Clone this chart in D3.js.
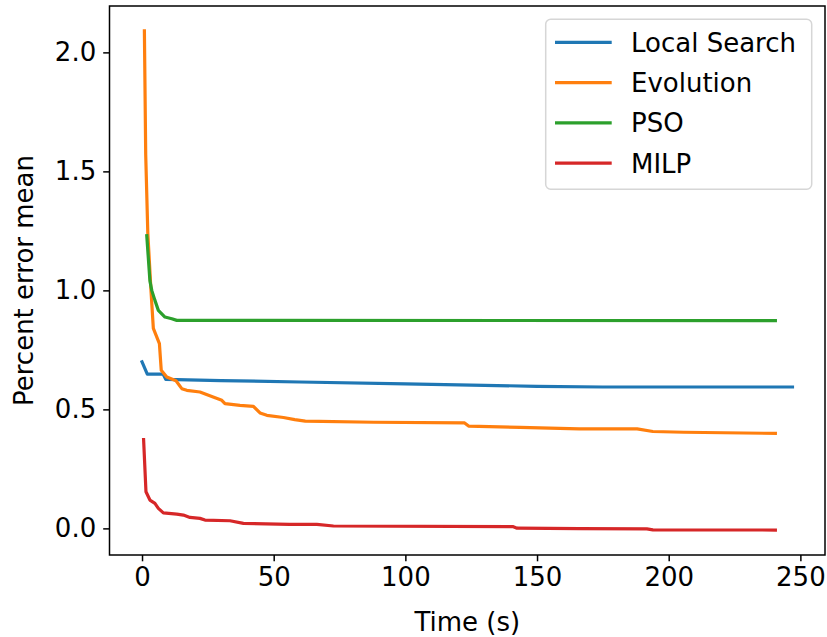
<!DOCTYPE html>
<html><head><meta charset="utf-8">
<script src="https://cdn.jsdelivr.net/npm/d3@7"></script>
<style>body{margin:0;background:#fff}svg{display:block}text{font-family:"DejaVu Sans",sans-serif;fill:#000}</style>
</head><body><svg id="c" width="827" height="637"></svg>
<script>
const seriesNames = ["Local Search", "Evolution", "PSO", "MILP"];
const seriesColors = ["#1f77b4", "#ff7f0e", "#2ca02c", "#d62728"];
const lsTime = [0, 2, 8, 9, 30, 60, 100, 130, 150, 175, 247];
const lsVal  = [0.70, 0.648, 0.648, 0.626, 0.621, 0.615, 0.607, 0.601, 0.597, 0.594, 0.594];
const evTime = [0.9, 1.4, 2.2, 3.4, 4.3, 6.6, 7.3, 9.4, 12.9, 15.1, 17, 22, 27, 30.3, 31.5, 37.2, 42.3, 44.8, 47.4, 53.7, 58, 62, 88, 122.5, 124, 143.6, 166, 188, 194, 205.7, 240.5];
const evVal  = [2.09, 1.57, 1.24, 1.0, 0.84, 0.776, 0.664, 0.636, 0.62, 0.587, 0.58, 0.573, 0.552, 0.538, 0.524, 0.517, 0.513, 0.485, 0.475, 0.466, 0.457, 0.451, 0.446, 0.443, 0.43, 0.424, 0.418, 0.418, 0.407, 0.404, 0.399];
const psoTime = [1.8, 3.0, 3.7, 4.9, 6.2, 8.7, 11.3, 13.2, 240.5];
const psoVal  = [1.23, 1.04, 1.0, 0.958, 0.916, 0.888, 0.881, 0.874, 0.873];
const milpTime = [0.6, 1.5, 3, 4.9, 6.2, 8.1, 13.2, 15.7, 18.2, 22, 23.9, 33.4, 38.5, 56, 66.4, 72.7, 141, 142.4, 166, 191.7, 194, 240.5];
const milpVal  = [0.373, 0.154, 0.119, 0.105, 0.084, 0.065, 0.06, 0.056, 0.046, 0.042, 0.035, 0.032, 0.021, 0.017, 0.017, 0.01, 0.007, 0.001, -0.001, -0.002, -0.006, -0.007];
const xTicks = [0, 50, 100, 150, 200, 250];
const yTicks = [0.0, 0.5, 1.0, 1.5, 2.0];

const allT = [lsTime, evTime, psoTime, milpTime];
const allV = [lsVal, evVal, psoVal, milpVal];

const L = 109.5, R = 825, T = 6, B = 555;
const svg = d3.select("#c");
const tmin = d3.min(allT.flat()), tmax = d3.max(allT.flat());
const vmin = d3.min(allV.flat()), vmax = d3.max(allV.flat());
const tp = (tmax - tmin) * 0.05, vp = (vmax - vmin) * 0.05;
const x = d3.scaleLinear().domain([tmin - tp, tmax + tp]).range([L, R]);
const y = d3.scaleLinear().domain([vmin - vp, vmax + vp]).range([B, T]);

const lw = 3.2;
const line = d3.line().x(d => x(d[0])).y(d => y(d[1]));
const g = svg.append("g");
allT.forEach((ts, i) => {
  const pts = ts.map((t, j) => [t, allV[i][j]]);
  g.append("path").attr("d", line(pts)).attr("fill", "none")
    .attr("stroke", seriesColors[i]).attr("stroke-width", lw)
    .attr("stroke-linejoin", "round").attr("stroke-linecap", "square");
});

const fs = 26;
const xa = svg.append("g").attr("transform", `translate(0,${B})`)
  .call(d3.axisBottom(x).tickValues(xTicks).tickFormat(d3.format("d")).tickSize(6.3).tickPadding(6));
const ya = svg.append("g").attr("transform", `translate(${L},0)`)
  .call(d3.axisLeft(y).tickValues(yTicks).tickFormat(d3.format(".1f")).tickSize(6.3).tickPadding(7));
[xa, ya].forEach(a => {
  a.select(".domain").remove();
  a.selectAll(".tick line").attr("stroke", "#000").attr("stroke-width", 1.5);
  a.selectAll(".tick text").attr("font-size", fs).attr("font-family", "DejaVu Sans");
});

svg.append("rect").attr("x", L).attr("y", T).attr("width", R - L).attr("height", B - T)
  .attr("fill", "none").attr("stroke", "#000").attr("stroke-width", 1.5);

svg.append("text").attr("x", (L + R) / 2).attr("y", 631).attr("text-anchor", "middle")
  .attr("font-size", fs).text("Time (s)");
svg.append("text").attr("transform", `translate(33,${(T + B) / 2}) rotate(-90)`)
  .attr("text-anchor", "middle").attr("font-size", fs).text("Percent error mean");

const lg = svg.append("g");
lg.append("rect").attr("x", 545.7).attr("y", 19.3).attr("width", 266).attr("height", 170)
  .attr("rx", 5).attr("fill", "#fff").attr("fill-opacity", 0.8).attr("stroke", "#d6d6d6").attr("stroke-width", 1.5);
seriesNames.forEach((n, i) => {
  const yy = 42.3 + i * 40.3;
  lg.append("line").attr("x1", 555).attr("x2", 611.7).attr("y1", yy).attr("y2", yy)
    .attr("stroke", seriesColors[i]).attr("stroke-width", lw);
  lg.append("text").attr("x", 631).attr("y", yy).attr("dy", "0.36em").attr("font-size", fs).text(n);
});
</script></body></html>
